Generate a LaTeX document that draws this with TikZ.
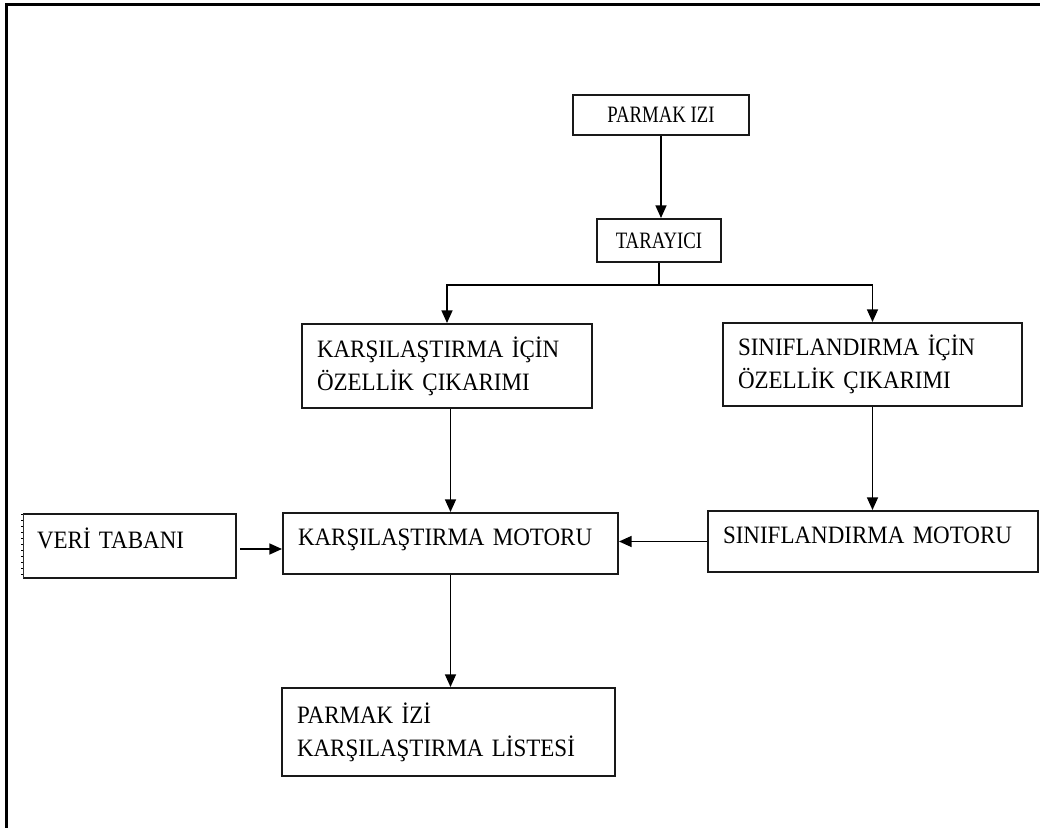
\documentclass[tikz,border=0pt]{standalone}
\usepackage{fontspec}
\setmainfont{Liberation Serif}
\newfontfamily\boxfont{Liberation Serif}[FakeStretch=0.92]
\newfontfamily\topfont{Liberation Serif}[FakeStretch=0.8]
\usetikzlibrary{arrows.meta}

\begin{document}
\begin{tikzpicture}[x=0.75pt,y=-0.75pt,
  boxline/.style={line width=1.5pt,draw=black!90},
  stepbox/.style={boxline,rectangle,inner ysep=0pt,align=left,
    font=\boxfont\fontsize{18.75pt}{24.75pt}\selectfont},
  onebox/.style={stepbox,text height=12.4pt,text depth=9pt},
  topbox/.style={boxline,rectangle,inner sep=0pt,align=center,
    font=\topfont\fontsize{17.6pt}{20pt}\selectfont,text height=11.65pt,text depth=0pt},
  arr/.style={line width=1.2pt,-{Triangle[length=9.5pt,width=8.25pt]}},
  link/.style={line width=1.2pt}]

\useasboundingbox (0,0) rectangle (1040,828);
\fill[white] (0,0) rectangle (1040,828);

% outer frame (top and left edges)
\draw[line width=2.25pt] (6.5,828) -- (6.5,4) -- (1040,4);

% boxes
\node[topbox,minimum width=132pt,minimum height=30pt] (pi) at (661,115) {PARMAK IZI};
\node[topbox,minimum width=93pt,minimum height=32.25pt] (tar) at (659,240.5) {TARAYICI};

\node[stepbox,minimum width=217.5pt,minimum height=63pt,text width=195pt,inner xsep=11.25pt]
  (kic) at (447,366) {KARŞILAŞTIRMA İÇİN\\ÖZELLİK ÇIKARIMI};
\node[stepbox,minimum width=224.25pt,minimum height=62.25pt,text width=201.75pt,inner xsep=11.25pt]
  (sic) at (872.5,364.5) {SINIFLANDIRMA İÇİN\\ÖZELLİK ÇIKARIMI};

\node[onebox,minimum width=251.25pt,minimum height=45.75pt,text width=228.75pt,inner xsep=11.25pt]
  (km) at (450.5,543.5) {KARŞILAŞTIRMA MOTORU};
\node[onebox,minimum width=247.5pt,minimum height=45.75pt,text width=225pt,inner xsep=10.5pt]
  (sm) at (873,541.5) {SINIFLANDIRMA MOTORU};
\node[onebox,draw=none,minimum width=158.25pt,minimum height=46.5pt,text width=138.75pt,inner xsep=9.75pt]
  (vt) at (129.5,546) {VERİ TABANI};

\node[stepbox,minimum width=249.75pt,minimum height=66pt,text width=227.25pt,inner xsep=11.25pt]
  (pl) at (448.5,732) {PARMAK İZİ\\KARŞILAŞTIRMA LİSTESİ};

% database box: solid top, right, bottom; ticked left edge
\draw[boxline] (vt.north west) -- (vt.north east) -- (vt.south east) -- (vt.south west);
\draw[line width=0.6pt,black!80] (vt.south west) -- (vt.north west);
\draw[line width=1.5pt,dash pattern=on 1pt off 3.5pt] ([xshift=-0.6pt]vt.north west) -- ([xshift=-0.6pt]vt.south west);

% connectors
\draw[arr] (pi.south) -- (pi.south |- tar.north);
\coordinate (br) at ([yshift=-16.5pt]tar.south);
\draw[link] (tar.south) -- (br);
\draw[arr] (br) -| (kic.north);
\draw[arr] (br) -| (sic.north);
\draw[arr] (km.north |- kic.south) -- (km.north);
\draw[arr] (sic.south) -- (sic.south |- sm.north);
\draw[arr] (sm.west) -- (sm.west -| km.east);
\draw[arr,shorten <=3pt] ([yshift=-2.25pt]vt.east) -- ([yshift=-2.25pt]vt.east -| km.west);
\draw[arr] (km.south) -- (km.south |- pl.north);
\end{tikzpicture}
\end{document}
